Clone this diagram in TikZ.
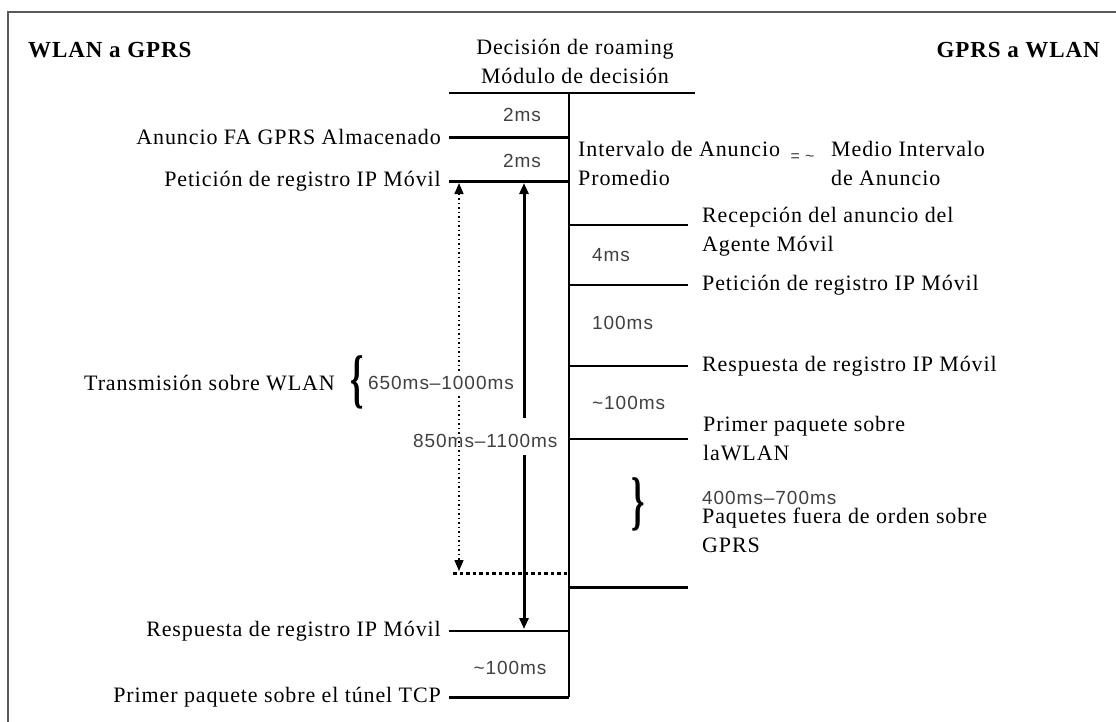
\documentclass[tikz,border=0pt]{standalone}
\usepackage{fontspec}
\usepackage{graphicx}
\setmainfont{Liberation Serif}[LetterSpace=4]
\newfontfamily\msfont{Liberation Sans}[LetterSpace=5]
\usepackage{tikz}
\usetikzlibrary{positioning}
\usetikzlibrary{arrows.meta}

\begin{document}
\begin{tikzpicture}[
    x=1pt, y=-1pt,
    lbl/.style={inner sep=0pt, font=\fontsize{22}{29}\selectfont, align=left},
    side/.style={inner sep=0pt, font=\fontsize{23}{29}\selectfont\bfseries},
    dur/.style={inner sep=0pt, font=\msfont\fontsize{19}{23}\selectfont, text=black!75},
    evline/.style={line width=1.5pt},
    evbold/.style={line width=3pt},
    boxline/.style={line width=2pt, draw=black!65},
    endtip/.style={-{Triangle[length=11pt,width=9pt]}},
    bothtips/.style={{Triangle[length=11pt,width=9pt]}-{Triangle[length=11pt,width=9pt]}},
    fewdots/.style={line width=1.3pt, dash pattern=on 1.5pt off 3pt},
    bigdots/.style={line width=3pt, dash pattern=on 3.5pt off 3pt}
]
\useasboundingbox (0,0) rectangle (1116,721);

% Frame (cut by the page on the right and at the bottom)
\coordinate (fbot) at (8,730);
\coordinate (fcorner) at (8,12);
\coordinate (fright) at (1125,12);
\draw[boxline] (fbot) -- (fcorner) -- (fright);

% Headers
\node[side, anchor=west] (wg) at (28,50) {WLAN a GPRS};
\node[side, anchor=east] (gw) at (1100,50) {GPRS a WLAN};
\node[lbl, align=center] (dec) at (575,61) {Decisión de roaming\\Módulo de decisión};

% Time axis
\coordinate (hdL) at (449,93);
\coordinate (hdR) at (695,93);
\coordinate (axtop) at (569,93);
\coordinate (axbot) at (569,697);
\draw[evline] (hdL) -- (hdR);
\draw[evline] (axtop) -- (axbot);

% Left events (WLAN a GPRS)
\coordinate (anu) at (449,137);
\coordinate (pet) at (449,181);
\coordinate (resp) at (449,631);
\coordinate (tcp) at (449,697);
\draw[evbold] (anu) -- (anu -| axtop);
\draw[evbold] (pet) -- (pet -| axtop);
\draw[evline] (resp) -- (resp -| axtop);
\draw[evbold] (tcp) -- (tcp -| axtop);

\node[lbl, left=8pt of anu] (anuL) {Anuncio FA GPRS Almacenado};
\node[lbl, left=8pt of pet] (petL) {Petición de registro IP Móvil};
\node[lbl, left=8pt of resp] (respL) {Respuesta de registro IP Móvil};
\node[lbl, left=8pt of tcp] (tcpL) {Primer paquete sobre el túnel TCP};

\node[dur] (d2a) at (522,115) {2ms};
\node[dur] (d2b) at (522,161) {2ms};
\node[dur] (d100c) at (510,668) {\textasciitilde100ms};

% Transmission over WLAN
\coordinate (dotT) at (459,183);
\coordinate (dotB) at (459,571);
\coordinate (dotL) at (453,573);
\draw[fewdots, bothtips] (dotT) -- (dotB);
\draw[bigdots] (dotL) -- (dotL -| axtop);

\node[lbl, anchor=east] (trans) at (335,383) {Transmisión sobre WLAN};
\node[inner sep=0pt] (lbrace) at (357,382) {\scalebox{1}[1.9]{\fontsize{34}{34}\selectfont\bfseries\{}};
\node[dur, anchor=west, fill=white, inner xsep=1pt, inner ysep=3pt] (t650) at (367,383) {650ms–1000ms};

% Whole handover
\coordinate (solT) at (524,183);
\coordinate (gapT) at (524,418);
\coordinate (gapB) at (524,455);
\coordinate (solB) at (524,629);
\draw[evbold, endtip] (gapT) -- (solT);
\draw[evbold, endtip] (gapB) -- (solB);
\node[dur, anchor=west] (t850) at (413,441) {850ms–1100ms};

% Right events (GPRS a WLAN)
\coordinate (rec) at (688,225);
\coordinate (petR) at (688,285);
\coordinate (respR) at (688,366);
\coordinate (prim) at (688,439);
\coordinate (fin) at (688,587);
\draw[evline] (rec -| axtop) -- (rec);
\draw[evline] (petR -| axtop) -- (petR);
\draw[evline] (respR -| axtop) -- (respR);
\draw[evline] (prim -| axtop) -- (prim);
\draw[evbold] (fin -| axtop) -- (fin);

\node[lbl, right=14pt of rec, yshift=-7pt] (recL) {Recepción del anuncio del\\Agente Móvil};
\node[lbl, right=14pt of petR] (petRL) {Petición de registro IP Móvil};
\node[lbl, right=14pt of respR] (respRL) {Respuesta de registro IP Móvil};
\node[lbl, right=15pt of prim] (primL) {Primer paquete sobre\\laWLAN};

\node[dur, anchor=west] (d4) at (592,255) {4ms};
\node[dur, anchor=west] (d100a) at (592,323) {100ms};
\node[dur, anchor=west] (d100b) at (592,403) {\textasciitilde100ms};

% Advertisement interval
\node[lbl, anchor=west] (intv) at (578,163) {Intervalo de Anuncio\\Promedio};
\node[dur, font=\msfont\fontsize{16}{18}\selectfont, right=10pt of intv, yshift=5pt] (approx) {= \textasciitilde};
\node[lbl, anchor=west] (medio) at (831,163) {Medio Intervalo\\de Anuncio};

% Out of order packets
\node[inner sep=0pt] (rbrace) at (638,504) {\scalebox{1}[1.9]{\fontsize{34}{34}\selectfont\bfseries\}}};
\node[dur, anchor=west] (t400) at (702,498) {400ms–700ms};
\node[lbl, below=3pt of t400.south west, anchor=north west] (pkt) {Paquetes fuera de orden sobre\\GPRS};

\end{tikzpicture}
\end{document}
